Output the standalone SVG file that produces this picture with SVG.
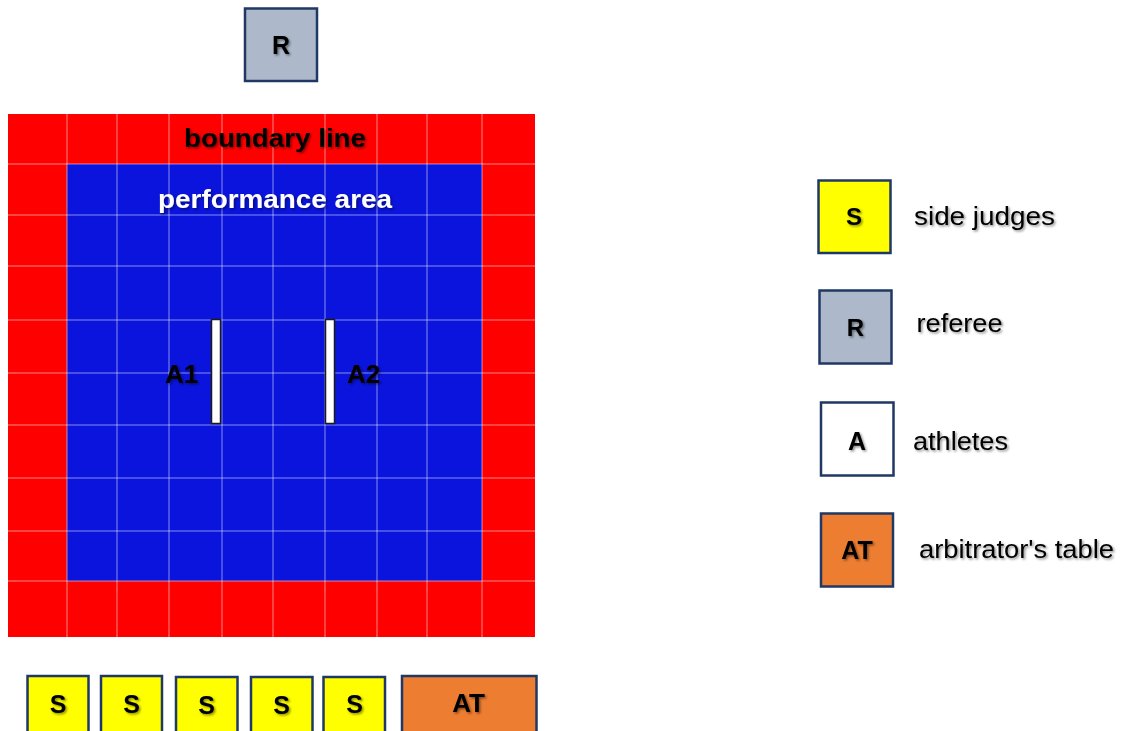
<svg xmlns="http://www.w3.org/2000/svg" width="1129" height="731" viewBox="0 0 1129 731">
  <defs>
    <filter id="shadow" x="-10%" y="-30%" width="120%" height="160%">
      <feDropShadow dx="1.5" dy="1.5" stdDeviation="1.2" flood-color="#000" flood-opacity="0.45"/>
    </filter>
    <style>
      .box { stroke: #1f3864; stroke-width: 2.5; }
      .s { fill: #ffff00; }
      .r { fill: #adb9ca; }
      .a { fill: #ffffff; }
      .at { fill: #ed7d31; }
      .lbl { font-family: "Liberation Sans", Arial, sans-serif; font-weight: bold; fill: #000; text-anchor: middle; filter: url(#shadow); }
      .leg { font-family: "Liberation Sans", Arial, sans-serif; font-size: 26px; fill: #000; filter: url(#shadow); }
      .grid line { stroke: #ffffff; stroke-opacity: 0.35; stroke-width: 1.5; }
      .bar { fill: #ffffff; stroke: #1a1a1a; stroke-width: 1.5; }
    </style>
  </defs>
  <rect width="1129" height="731" fill="#ffffff"/>

  <!-- competition mat -->
  <g id="mat">
    <rect x="8" y="114" width="527" height="523" fill="#ff0000"/>
    <rect x="67" y="164" width="415" height="417" fill="#0a14dc"/>
    <g class="grid">
      <line x1="67" y1="112" x2="67" y2="637"/>
      <line x1="117" y1="112" x2="117" y2="637"/>
      <line x1="169" y1="112" x2="169" y2="637"/>
      <line x1="222" y1="112" x2="222" y2="637"/>
      <line x1="273" y1="112" x2="273" y2="637"/>
      <line x1="325" y1="112" x2="325" y2="637"/>
      <line x1="377" y1="112" x2="377" y2="637"/>
      <line x1="427" y1="112" x2="427" y2="637"/>
      <line x1="482" y1="112" x2="482" y2="637"/>
      <line x1="8" y1="164" x2="535" y2="164"/>
      <line x1="8" y1="215" x2="535" y2="215"/>
      <line x1="8" y1="266" x2="535" y2="266"/>
      <line x1="8" y1="320" x2="535" y2="320"/>
      <line x1="8" y1="373" x2="535" y2="373"/>
      <line x1="8" y1="425" x2="535" y2="425"/>
      <line x1="8" y1="478" x2="535" y2="478"/>
      <line x1="8" y1="531" x2="535" y2="531"/>
      <line x1="8" y1="581" x2="535" y2="581"/>
    </g>
    <text class="lbl" x="275" y="147" font-size="26" textLength="182" lengthAdjust="spacingAndGlyphs">boundary line</text>
    <text class="lbl" x="275" y="208" font-size="26" style="fill:#ffffff" textLength="234" lengthAdjust="spacingAndGlyphs">performance area</text>
  </g>

  <!-- athletes -->
  <g id="athlete-a1">
    <rect class="bar" x="211.5" y="319.5" width="9" height="104"/>
    <text class="lbl" x="181.5" y="383" font-size="26">A1</text>
  </g>
  <g id="athlete-a2">
    <rect class="bar" x="325.5" y="319.5" width="9" height="104"/>
    <text class="lbl" x="363.5" y="383" font-size="26">A2</text>
  </g>

  <!-- referee -->
  <g id="referee">
    <rect class="box r" x="245" y="8.5" width="72" height="72.5"/>
    <text class="lbl" x="281" y="53.5" font-size="25">R</text>
  </g>

  <!-- side judges and arbitrator's table -->
  <g id="judge-1">
    <rect class="box s" x="27.5" y="676" width="61" height="72"/>
    <text class="lbl" x="58" y="713" font-size="25">S</text>
  </g>
  <g id="judge-2">
    <rect class="box s" x="101" y="676" width="61" height="72"/>
    <text class="lbl" x="131.5" y="713" font-size="25">S</text>
  </g>
  <g id="judge-3">
    <rect class="box s" x="176" y="677" width="61.5" height="72"/>
    <text class="lbl" x="206.5" y="714" font-size="25">S</text>
  </g>
  <g id="judge-4">
    <rect class="box s" x="251" y="677" width="61.5" height="72"/>
    <text class="lbl" x="281.5" y="714" font-size="25">S</text>
  </g>
  <g id="judge-5">
    <rect class="box s" x="323.5" y="677" width="61.5" height="72"/>
    <text class="lbl" x="354.5" y="713" font-size="25">S</text>
  </g>
  <g id="arbitrator-table">
    <rect class="box at" x="402" y="676" width="134.5" height="72"/>
    <text class="lbl" x="468.5" y="712" font-size="26">AT</text>
  </g>

  <!-- legend -->
  <g id="legend-s">
    <rect class="box s" x="818.5" y="180.5" width="72" height="72.5"/>
    <text class="lbl" x="854" y="225" font-size="24">S</text>
    <text class="leg" x="914" y="225" textLength="141" lengthAdjust="spacingAndGlyphs">side judges</text>
  </g>
  <g id="legend-r">
    <rect class="box r" x="819.5" y="290.5" width="72" height="73"/>
    <text class="lbl" x="855.5" y="335.5" font-size="24">R</text>
    <text class="leg" x="916.5" y="331.5" textLength="86" lengthAdjust="spacingAndGlyphs">referee</text>
  </g>
  <g id="legend-a">
    <rect class="box a" x="821" y="402.5" width="72.5" height="73"/>
    <text class="lbl" x="857" y="450" font-size="25">A</text>
    <text class="leg" x="913" y="450" textLength="95" lengthAdjust="spacingAndGlyphs">athletes</text>
  </g>
  <g id="legend-at">
    <rect class="box at" x="821" y="513.5" width="72" height="73"/>
    <text class="lbl" x="857" y="558.5" font-size="25">AT</text>
    <text class="leg" x="919" y="558" textLength="195" lengthAdjust="spacingAndGlyphs">arbitrator's table</text>
  </g>
</svg>
